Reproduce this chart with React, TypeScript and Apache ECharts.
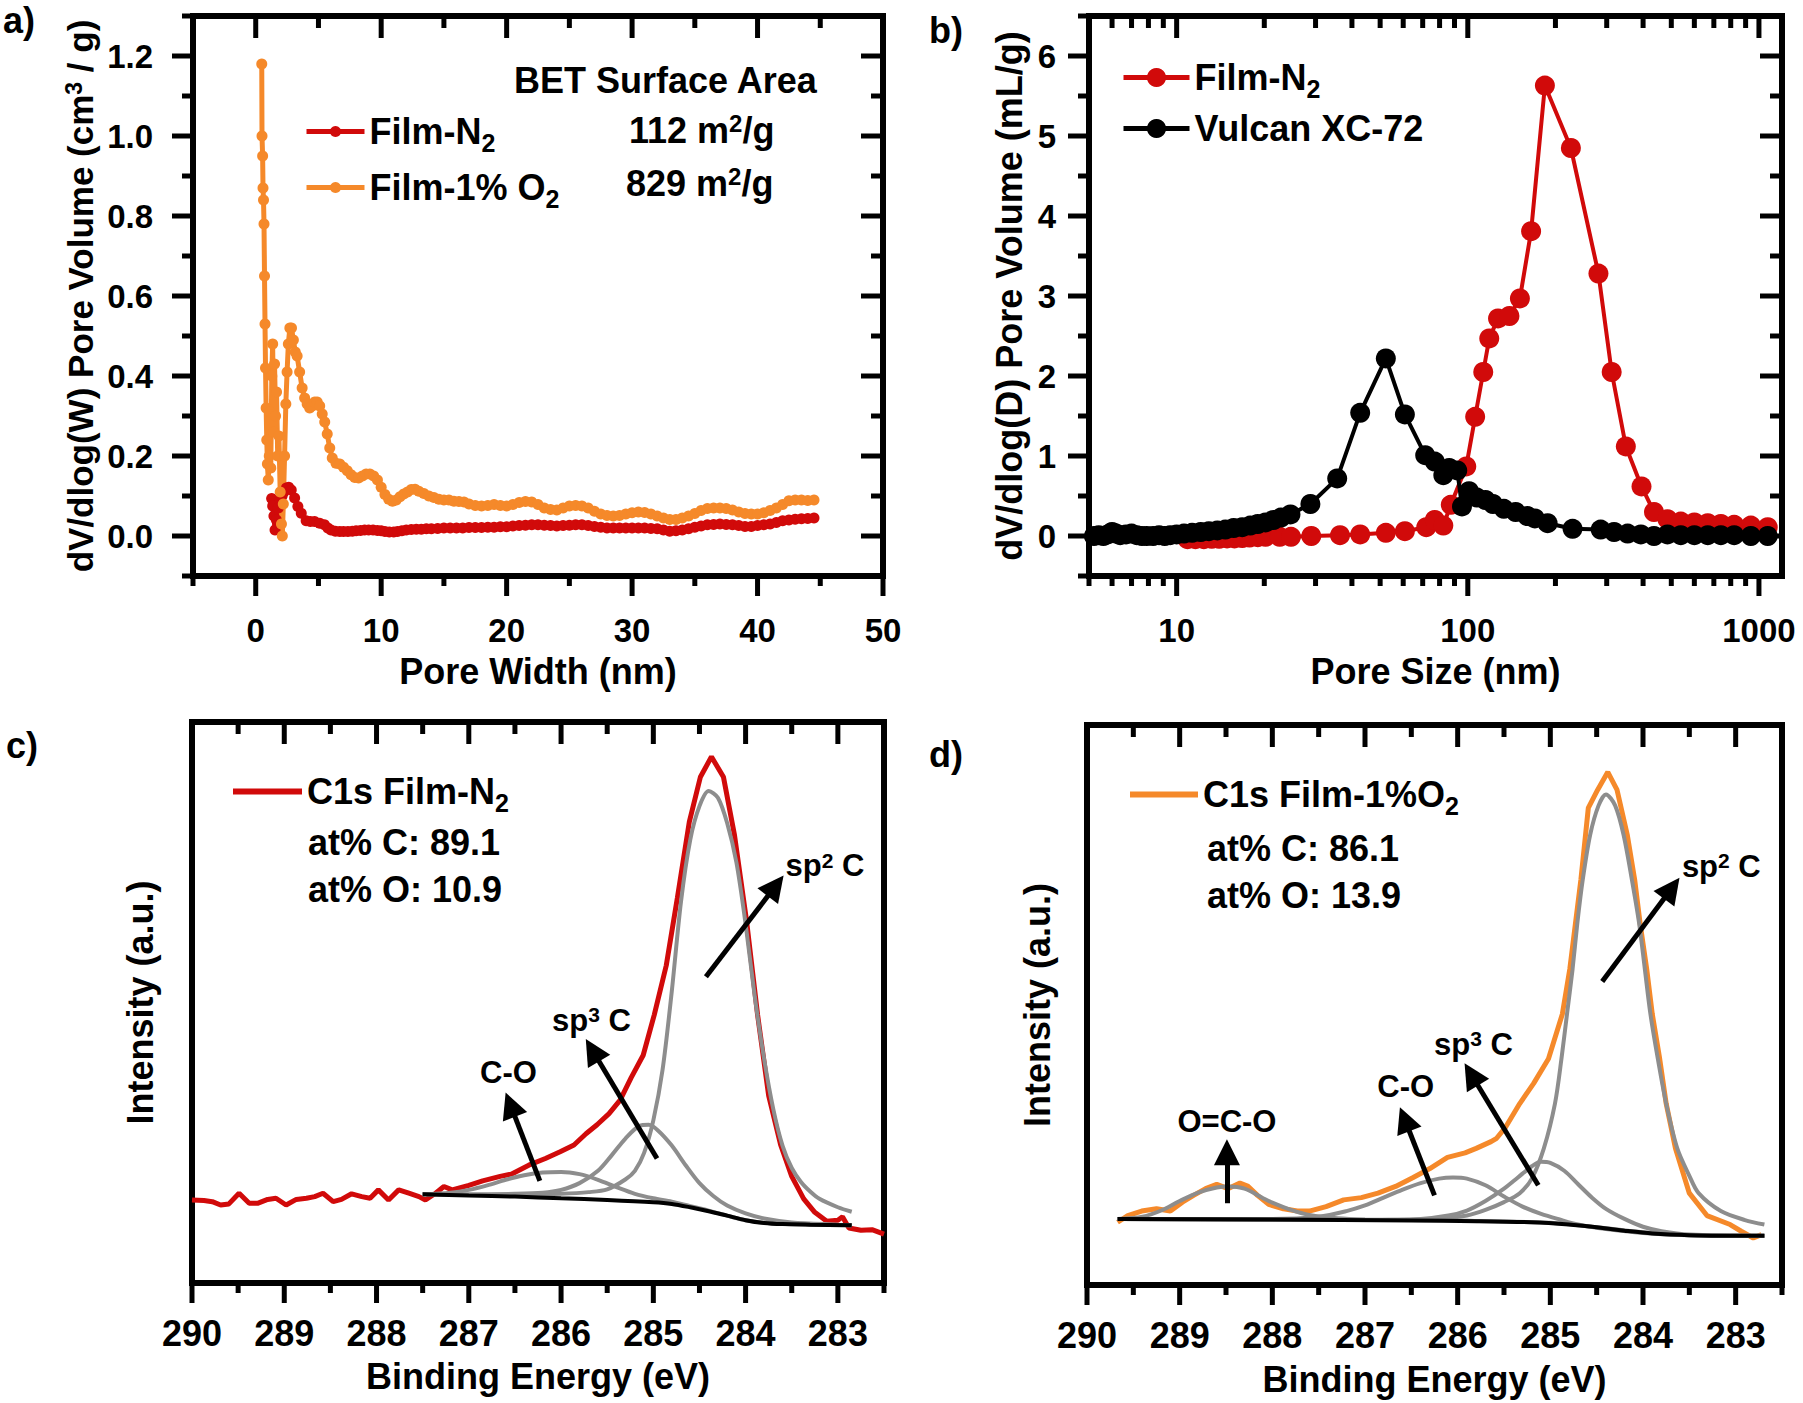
import React, { useEffect, useRef } from "react";
import * as echarts from "echarts";

const FONT = '"Liberation Sans", Arial, Helvetica, sans-serif';
const RED = "#d10a0a";
const ORANGE = "#f5892a";
const GRAY = "#8d8d8d";
const BLACK = "#000000";

// ---------------- Panel a: pore width distribution (BET) ----------------
const aFilmN2: number[][] = [
  [1.27, 0.094], [1.35, 0.075], [1.45, 0.05], [1.54, 0.015], [1.65, 0.04], [1.8, 0.07], [1.95, 0.09], [2.1, 0.1],
  [2.25, 0.11], [2.44, 0.12], [2.63, 0.122], [2.83, 0.115], [3.1, 0.095], [3.36, 0.074], [3.63, 0.057], [4.02, 0.038],
  [4.35, 0.036], [4.69, 0.036], [5.1, 0.032], [5.48, 0.028], [5.75, 0.02], [6.0, 0.015], [6.35, 0.012], [6.7, 0.011],
  [7.0, 0.011], [7.35, 0.011], [7.7, 0.012], [8.0, 0.013], [8.35, 0.014], [8.68, 0.015], [9.0, 0.015], [9.35, 0.015],
  [9.7, 0.014], [10.0, 0.013], [10.3, 0.011], [10.65, 0.01], [11.0, 0.01], [11.3, 0.011], [11.65, 0.013], [12.0, 0.015],
  [12.4, 0.016], [12.8, 0.017], [13.2, 0.017], [13.6, 0.018], [14.0, 0.018], [14.5, 0.019], [15.0, 0.02], [15.5, 0.02],
  [16.0, 0.02], [16.5, 0.02], [17.0, 0.021], [17.5, 0.021], [18.0, 0.021], [18.5, 0.022], [19.0, 0.022], [19.5, 0.023],
  [20.0, 0.023], [20.5, 0.025], [21.0, 0.026], [21.5, 0.027], [22.0, 0.028], [22.5, 0.028], [23.0, 0.027], [23.5, 0.026],
  [24.0, 0.025], [24.5, 0.026], [25.0, 0.027], [25.5, 0.028], [26.0, 0.028], [26.5, 0.026], [27.0, 0.024], [27.5, 0.022],
  [28.0, 0.02], [28.5, 0.02], [29.0, 0.02], [29.5, 0.02], [30.0, 0.02], [30.5, 0.02], [31.0, 0.02], [31.5, 0.019],
  [32.0, 0.018], [32.5, 0.015], [33.0, 0.012], [33.5, 0.013], [34.0, 0.015], [34.5, 0.018], [35.0, 0.022], [35.5, 0.025],
  [36.0, 0.028], [36.5, 0.029], [37.0, 0.03], [37.5, 0.029], [38.0, 0.028], [38.5, 0.026], [39.0, 0.024], [39.5, 0.024],
  [40.0, 0.026], [40.5, 0.028], [41.0, 0.03], [41.5, 0.034], [42.0, 0.038], [42.5, 0.04], [43.0, 0.042], [43.5, 0.043],
  [44.0, 0.044], [44.5, 0.045],
];
const aFilmO2: number[][] = [
  [0.48, 1.18], [0.5, 1.0], [0.55, 0.95], [0.58, 0.87], [0.62, 0.84], [0.66, 0.78], [0.7, 0.65], [0.74, 0.53],
  [0.78, 0.42], [0.83, 0.32], [0.88, 0.24], [0.93, 0.18], [1.0, 0.14], [1.08, 0.2], [1.15, 0.31], [1.2, 0.17],
  [1.28, 0.4], [1.35, 0.48], [1.42, 0.26], [1.5, 0.43], [1.58, 0.3], [1.66, 0.36], [1.75, 0.2], [1.85, 0.25],
  [1.95, 0.11], [2.05, 0.03], [2.12, 0.0], [2.2, 0.08], [2.3, 0.2], [2.4, 0.33], [2.5, 0.41], [2.6, 0.48],
  [2.72, 0.52], [2.85, 0.52], [3.0, 0.49], [3.15, 0.46], [3.3, 0.45], [3.5, 0.41], [3.7, 0.37], [3.9, 0.345],
  [4.1, 0.33], [4.3, 0.32], [4.5, 0.325], [4.7, 0.335], [4.9, 0.335], [5.1, 0.325], [5.3, 0.305], [5.5, 0.285],
  [5.7, 0.255], [5.9, 0.22], [6.1, 0.195], [6.4, 0.182], [6.7, 0.18], [7.0, 0.172], [7.3, 0.163], [7.6, 0.153],
  [7.9, 0.146], [8.2, 0.145], [8.5, 0.15], [8.8, 0.155], [9.1, 0.155], [9.4, 0.15], [9.7, 0.14], [10.0, 0.122],
  [10.3, 0.104], [10.6, 0.092], [10.9, 0.087], [11.2, 0.09], [11.5, 0.098], [11.8, 0.105], [12.1, 0.11], [12.4, 0.116],
  [12.7, 0.117], [13.0, 0.112], [13.4, 0.106], [13.8, 0.1], [14.2, 0.096], [14.6, 0.092], [15.0, 0.09], [15.4, 0.09],
  [15.8, 0.087], [16.2, 0.086], [16.6, 0.085], [17.0, 0.08], [17.5, 0.076], [18.0, 0.075], [18.5, 0.076], [19.0, 0.079],
  [19.5, 0.076], [20.0, 0.075], [20.5, 0.079], [21.0, 0.084], [21.5, 0.086], [22.0, 0.085], [22.5, 0.079], [23.0, 0.07],
  [23.5, 0.066], [24.0, 0.065], [24.5, 0.07], [25.0, 0.075], [25.5, 0.076], [26.0, 0.075], [26.5, 0.07], [27.0, 0.062],
  [27.5, 0.055], [28.0, 0.051], [28.5, 0.05], [29.0, 0.051], [29.5, 0.055], [30.0, 0.058], [30.5, 0.06], [31.0, 0.059],
  [31.5, 0.055], [32.0, 0.05], [32.5, 0.045], [33.0, 0.041], [33.5, 0.041], [34.0, 0.045], [34.5, 0.05], [35.0, 0.056],
  [35.5, 0.064], [36.0, 0.069], [36.5, 0.07], [37.0, 0.07], [37.5, 0.069], [38.0, 0.065], [38.5, 0.06], [39.0, 0.056],
  [39.5, 0.055], [40.0, 0.055], [40.5, 0.058], [41.0, 0.064], [41.5, 0.07], [42.0, 0.079], [42.5, 0.088], [43.0, 0.09],
  [43.5, 0.09], [44.0, 0.089], [44.5, 0.09],
];

// ---------------- Panel b: pore size distribution ----------------
const bFilmN2: number[][] = [
  [10.9, -0.04], [11.6, -0.04], [12.4, -0.04], [13.2, -0.035], [14.0, -0.035], [14.9, -0.03], [15.8, -0.03],
  [16.8, -0.025], [17.8, -0.02], [19.0, -0.015], [20.2, -0.01], [22.6, -0.01], [24.7, -0.01], [29.0, 0.0],
  [36.4, 0.01], [42.7, 0.02], [52.3, 0.04], [60.8, 0.06], [72, 0.11], [77, 0.2], [82.4, 0.13], [87.4, 0.39],
  [98.8, 0.87], [106, 1.49], [113, 2.05], [118.5, 2.47], [127, 2.72], [139, 2.75], [151, 2.97], [165, 3.81],
  [184, 5.63], [226, 4.85], [281, 3.28], [312, 2.05], [349, 1.12], [395, 0.62], [436, 0.3], [485, 0.21],
  [539, 0.18], [600, 0.17], [667, 0.16], [740, 0.15], [822, 0.14], [938, 0.13], [1072, 0.11],
];
const bVulcan: number[][] = [
  [5.2, 0.0], [5.4, 0.01], [5.6, 0.0], [5.8, 0.02], [6.0, 0.05], [6.2, 0.03], [6.4, 0.01], [6.7, 0.02],
  [7.0, 0.03], [7.3, 0.01], [7.6, 0.0], [7.9, 0.0], [8.3, 0.0], [8.7, 0.01], [9.1, 0.0], [9.5, 0.01],
  [10.0, 0.02], [10.6, 0.03], [11.3, 0.04], [12.1, 0.05], [12.9, 0.06], [13.8, 0.07], [14.7, 0.08], [15.7, 0.1],
  [16.8, 0.11], [17.9, 0.13], [19.0, 0.15], [20.2, 0.17], [21.5, 0.2], [22.8, 0.23], [24.6, 0.27], [28.8, 0.4],
  [35.6, 0.72], [42.7, 1.54], [52.3, 2.22], [60.8, 1.52], [71.4, 1.01], [77, 0.93], [82.4, 0.76], [86.3, 0.85],
  [92, 0.82], [95.5, 0.37], [101, 0.56], [107.5, 0.48], [115, 0.45], [122, 0.4], [133, 0.34], [146, 0.3],
  [160, 0.25], [170, 0.22], [188, 0.16], [229, 0.09], [286, 0.08], [318, 0.05], [354, 0.03], [393, 0.02],
  [436, 0.0], [485, 0.02], [539, 0.01], [600, 0.01], [667, 0.01], [740, 0.01], [822, 0.01], [938, 0.0], [1072, 0.0],
];

// ---------------- Panel c: XPS C1s Film-N2 ----------------
const cEnvelope: number[][] = [
  [290.0, 0.148], [289.87, 0.147], [289.78, 0.145], [289.69, 0.139], [289.6, 0.141], [289.49, 0.16], [289.38, 0.142],
  [289.29, 0.142], [289.18, 0.149], [289.09, 0.151], [288.98, 0.139], [288.87, 0.149], [288.76, 0.151], [288.67, 0.154],
  [288.58, 0.16], [288.47, 0.145], [288.38, 0.149], [288.27, 0.159], [288.16, 0.154], [288.07, 0.151], [287.98, 0.166],
  [287.87, 0.148], [287.76, 0.166], [287.65, 0.16], [287.54, 0.154], [287.47, 0.148], [287.36, 0.16], [287.27, 0.172],
  [287.18, 0.166], [287.0, 0.174], [286.85, 0.182], [286.66, 0.19], [286.54, 0.194], [286.35, 0.21], [286.17, 0.222],
  [286.01, 0.234], [285.86, 0.246], [285.73, 0.266], [285.61, 0.282], [285.48, 0.302], [285.36, 0.326], [285.24, 0.366],
  [285.11, 0.406], [284.99, 0.478], [284.86, 0.566], [284.74, 0.686], [284.61, 0.822], [284.49, 0.902], [284.37, 0.938],
  [284.24, 0.902], [284.12, 0.798], [283.99, 0.646], [283.87, 0.478], [283.75, 0.334], [283.62, 0.246], [283.5, 0.19],
  [283.37, 0.15], [283.25, 0.126], [283.12, 0.11], [283.0, 0.112], [282.95, 0.118], [282.88, 0.098], [282.75, 0.094],
  [282.63, 0.095], [282.5, 0.087],
];
const cSp2: number[][] = [
  [287.5, 0.158], [287.0, 0.157], [286.5, 0.157], [286.0, 0.159], [285.7, 0.162], [285.5, 0.167], [285.3, 0.185],
  [285.2, 0.2], [285.1, 0.232], [285.0, 0.29], [284.9, 0.38], [284.8, 0.52], [284.7, 0.68], [284.6, 0.79],
  [284.5, 0.85], [284.4, 0.877], [284.3, 0.865], [284.2, 0.82], [284.1, 0.75], [284.0, 0.64], [283.9, 0.51],
  [283.8, 0.4], [283.7, 0.31], [283.6, 0.245], [283.5, 0.205], [283.4, 0.18], [283.3, 0.163], [283.2, 0.15],
  [283.0, 0.135], [282.85, 0.127],
];
const cSp3: number[][] = [
  [287.5, 0.158], [287.0, 0.158], [286.5, 0.159], [286.2, 0.161], [286.0, 0.166], [285.8, 0.178], [285.6, 0.2],
  [285.45, 0.228], [285.3, 0.258], [285.15, 0.28], [285.05, 0.282], [284.95, 0.272], [284.8, 0.245], [284.65, 0.21],
  [284.5, 0.178], [284.35, 0.155], [284.2, 0.138], [284.0, 0.124], [283.8, 0.115], [283.5, 0.108], [283.0, 0.104],
  [282.85, 0.103],
];
const cCO: number[][] = [
  [287.5, 0.158], [287.2, 0.161], [287.0, 0.166], [286.8, 0.174], [286.6, 0.184], [286.4, 0.192], [286.2, 0.197],
  [286.0, 0.198], [285.8, 0.194], [285.6, 0.184], [285.4, 0.171], [285.2, 0.159], [285.0, 0.151], [284.8, 0.145],
  [284.6, 0.137], [284.4, 0.129], [284.2, 0.12], [284.0, 0.112], [283.7, 0.106], [283.3, 0.104], [282.85, 0.103],
];
const cBackground: number[][] = [
  [287.5, 0.158], [287.0, 0.156], [286.5, 0.154], [286.0, 0.151], [285.5, 0.148], [285.0, 0.144], [284.8, 0.141],
  [284.6, 0.135], [284.4, 0.128], [284.2, 0.12], [284.0, 0.112], [283.8, 0.107], [283.6, 0.105], [283.3, 0.104],
  [282.85, 0.103],
];

// ---------------- Panel d: XPS C1s Film-1%O2 ----------------
const dEnvelope: number[][] = [
  [289.67, 0.112], [289.56, 0.124], [289.41, 0.132], [289.25, 0.136], [289.1, 0.132], [288.97, 0.148], [288.85, 0.16],
  [288.72, 0.172], [288.6, 0.18], [288.48, 0.172], [288.35, 0.182], [288.26, 0.176], [288.16, 0.16], [288.04, 0.144],
  [287.88, 0.136], [287.73, 0.132], [287.6, 0.132], [287.42, 0.14], [287.23, 0.152], [287.04, 0.156], [286.86, 0.164],
  [286.67, 0.176], [286.48, 0.192], [286.3, 0.208], [286.11, 0.228], [285.92, 0.236], [285.8, 0.244], [285.64, 0.256],
  [285.58, 0.262], [285.49, 0.28], [285.33, 0.324], [285.18, 0.36], [285.02, 0.404], [284.87, 0.484], [284.79, 0.564],
  [284.73, 0.644], [284.67, 0.724], [284.62, 0.804], [284.59, 0.852], [284.49, 0.884], [284.38, 0.916], [284.28, 0.884],
  [284.17, 0.804], [284.09, 0.724], [284.03, 0.644], [283.96, 0.564], [283.9, 0.484], [283.82, 0.404], [283.75, 0.324],
  [283.65, 0.244], [283.5, 0.164], [283.31, 0.124], [283.06, 0.108], [282.94, 0.096], [282.81, 0.084], [282.72, 0.09],
];
const dSp2: number[][] = [
  [289.67, 0.118], [287.0, 0.116], [286.2, 0.118], [285.9, 0.124], [285.7, 0.134], [285.5, 0.148], [285.33, 0.164],
  [285.2, 0.19], [285.07, 0.244], [284.95, 0.324], [284.88, 0.404], [284.82, 0.484], [284.76, 0.564], [284.71, 0.644],
  [284.65, 0.724], [284.57, 0.804], [284.48, 0.856], [284.4, 0.876], [284.3, 0.856], [284.21, 0.804], [284.12, 0.724],
  [284.04, 0.644], [283.98, 0.564], [283.92, 0.484], [283.84, 0.404], [283.75, 0.324], [283.63, 0.244], [283.5, 0.195],
  [283.4, 0.164], [283.16, 0.132], [282.9, 0.116], [282.69, 0.108],
];
const dSp3: number[][] = [
  [289.67, 0.118], [287.0, 0.116], [286.4, 0.118], [286.1, 0.124], [285.9, 0.133], [285.7, 0.15], [285.5, 0.172],
  [285.35, 0.192], [285.2, 0.212], [285.1, 0.22], [285.0, 0.218], [284.85, 0.204], [284.7, 0.18], [284.55, 0.156],
  [284.4, 0.136], [284.2, 0.118], [284.0, 0.104], [283.8, 0.096], [283.5, 0.09], [282.69, 0.088],
];
const dCO: number[][] = [
  [289.67, 0.118], [288.0, 0.118], [287.5, 0.122], [287.2, 0.132], [287.0, 0.142], [286.8, 0.156], [286.6, 0.17],
  [286.4, 0.182], [286.2, 0.19], [286.05, 0.192], [285.9, 0.19], [285.7, 0.178], [285.5, 0.158], [285.3, 0.14],
  [285.1, 0.127], [284.9, 0.117], [284.7, 0.108], [284.4, 0.1], [284.0, 0.093], [283.5, 0.089], [282.69, 0.088],
];
const dOCO: number[][] = [
  [289.67, 0.118], [289.4, 0.122], [289.2, 0.133], [289.0, 0.15], [288.8, 0.165], [288.6, 0.174], [288.48, 0.176],
  [288.3, 0.172], [288.1, 0.155], [288.0, 0.147], [287.8, 0.134], [287.6, 0.125], [287.3, 0.119], [287.0, 0.117],
  [286.0, 0.115], [285.0, 0.111], [284.5, 0.103], [284.0, 0.094], [283.5, 0.089], [282.69, 0.088],
];
const dBackground: number[][] = [
  [289.67, 0.118], [288.0, 0.117], [286.5, 0.115], [285.8, 0.114], [285.2, 0.112], [284.8, 0.108], [284.5, 0.103],
  [284.2, 0.097], [283.9, 0.092], [283.5, 0.089], [283.0, 0.088], [282.69, 0.088],
];

// ---------------- annotation arrows / labels (data coords) ----------------
const cArrows: number[][][] = [
  [[284.43, 0.546], [283.674, 0.708]],
  [[284.96, 0.222], [285.66, 0.415]],
  [[286.23, 0.182], [286.55, 0.318]],
];
const dArrows: number[][][] = [
  [[284.44, 0.542], [283.69, 0.7085]],
  [[285.13, 0.178], [285.853, 0.376]],
  [[286.25, 0.16], [286.572, 0.296]],
  [[288.49, 0.146], [288.49, 0.237]],
];
const cPeakLabels: [number, number, string][] = [
  [283.14, 0.744, "{m|sp}{sup|2}{m| C}"],
  [285.67, 0.468, "{m|sp}{sup|3}{m| C}"],
  [286.57, 0.375, "{m|C-O}"],
];
const dPeakLabels: [number, number, string][] = [
  [283.155, 0.748, "{m|sp}{sup|2}{m| C}"],
  [285.83, 0.43, "{m|sp}{sup|3}{m| C}"],
  [286.56, 0.354, "{m|C-O}"],
  [288.49, 0.292, "{m|O=C-O}"],
];

// ---------------- ticks ----------------
const aXMajor = [0, 10, 20, 30, 40, 50];
const aXMinor = [-5, 5, 15, 25, 35, 45];
const aYMajor = [0, 0.2, 0.4, 0.6, 0.8, 1.0, 1.2];
const aYMinor = [-0.1, 0.1, 0.3, 0.5, 0.7, 0.9, 1.1, 1.3];
const bXMajor = [10, 100, 1000];
const bXMinor = [5, 6, 7, 8, 9, 20, 30, 40, 50, 60, 70, 80, 90, 200, 300, 400, 500, 600, 700, 800, 900];
const bYMajor = [0, 1, 2, 3, 4, 5, 6];
const bYMinor = [-0.5, 0.5, 1.5, 2.5, 3.5, 4.5, 5.5, 6.5];
const xpsXMajor = [283, 284, 285, 286, 287, 288, 289, 290];
const xpsXMinor = [282.5, 283.5, 284.5, 285.5, 286.5, 287.5, 288.5, 289.5];

const legendText: Record<string, string> = {
  "a-N2": "{m|Film-N}{sub|2}",
  "a-O2": "{m|Film-1% O}{sub|2}",
  "b-N2": "{m|Film-N}{sub|2}",
  "b-Vulcan": "{m|Vulcan XC-72}",
  "c-env": "{m|C1s Film-N}{sub|2}",
  "d-env": "{m|C1s Film-1%O}{sub|2}",
};

const GRIDS = [
  { left: 193, top: 16, width: 690, height: 560 },
  { left: 1089, top: 16, width: 693, height: 560 },
  { left: 192, top: 722, width: 692, height: 561 },
  { left: 1087, top: 725, width: 695, height: 560 },
];

// reference values inside each panel's ranges (used when converting a single coordinate)
const PANEL_TICKS = [
  { xRef: 0, yRef: 0, xMajor: aXMajor, xMinor: aXMinor, yMajor: aYMajor, yMinor: aYMinor },
  { xRef: 10, yRef: 0, xMajor: bXMajor, xMinor: bXMinor, yMajor: bYMajor, yMinor: bYMinor },
  { xRef: 285, yRef: 0.5, xMajor: xpsXMajor, xMinor: xpsXMinor, yMajor: [] as number[], yMinor: [] as number[] },
  { xRef: 285, yRef: 0.5, xMajor: xpsXMajor, xMinor: xpsXMinor, yMajor: [] as number[], yMinor: [] as number[] },
];

function rich(size: number) {
  const lh = Math.round(size * 1.22);
  const base = { fontWeight: "bold", fontFamily: FONT, color: BLACK };
  return {
    m: { ...base, fontSize: size, lineHeight: lh },
    sub: { ...base, fontSize: Math.round(size * 0.7), lineHeight: lh, padding: [Math.round(size * 0.6), 0, 0, 0] },
    sup: { ...base, fontSize: Math.round(size * 0.67), lineHeight: lh, padding: [0, 0, Math.round(size * 0.36), 0] },
  };
}

function txt(size: number) {
  return { fontSize: size, fontWeight: "bold", fontFamily: FONT, color: BLACK };
}

function axis(gi: number, type: string, min: number, max: number, major: number[], inverse: boolean, label: any, nameCfg: any) {
  const a: any = {
    gridIndex: gi, type, min, max, inverse, splitLine: { show: false }, silent: true,
    axisPointer: { show: false }, nameMoveOverlap: false,
    axisLine: { show: false, onZero: false }, axisTick: { show: false },
    axisLabel: label ? { show: true, customValues: major.slice(), ...label } : { show: false },
    ...nameCfg,
  };
  if (type === "log") a.logBase = 10;
  return a;
}

function lineSeries(name: string, gi: number, data: number[][], color: string, width: number, symbolSize: number, extra: any = {}) {
  return {
    type: "line", name, xAxisIndex: gi, yAxisIndex: gi, data, color,
    lineStyle: { color, width }, itemStyle: { color },
    symbol: symbolSize > 0 ? "circle" : "none", symbolSize, showSymbol: symbolSize > 0,
    silent: true, emphasis: { disabled: true }, animation: false, ...extra,
  };
}

function arrowMarks(arrows: number[][][], labels: [number, number, string][]) {
  return {
    markLine: {
      silent: true, symbol: ["none", "triangle"], symbolSize: 26, animation: false,
      lineStyle: { color: BLACK, width: 5, type: "solid" }, label: { show: false }, emphasis: { disabled: true },
      data: arrows.map((a) => [{ coord: a[0] }, { coord: a[1] }]),
    },
    markPoint: {
      silent: true, symbol: "circle", symbolSize: 1, itemStyle: { color: "rgba(0,0,0,0)" }, animation: false,
      label: { show: true, position: "inside", rich: rich(31), ...txt(31) },
      data: labels.map((l) => ({ coord: [l[0], l[1]], value: 0, label: { formatter: l[2] } })),
    },
  };
}

function gtext(x: number, y: number, text: string, size = 36) {
  return {
    type: "text", x, y, silent: true,
    style: { text, rich: rich(size), fontSize: size, fontWeight: "bold", fontFamily: FONT, fill: BLACK, verticalAlign: "middle", align: "left" },
  };
}
function ptext(x: number, y: number, text: string, size = 36) {
  return {
    type: "text", x, y, silent: true,
    style: { text, fontSize: size, fontWeight: "bold", fontFamily: FONT, fill: BLACK, verticalAlign: "top", align: "left" },
  };
}

const textGraphics = [
  ptext(3, 2, "a)"),
  ptext(929, 12, "b)"),
  ptext(6, 727, "c)"),
  ptext(929, 736, "d)"),
  gtext(514, 80, "{m|BET Surface Area}"),
  gtext(629, 130, "{m|112 m}{sup|2}{m|/g}"),
  gtext(626, 183, "{m|829 m}{sup|2}{m|/g}"),
  gtext(308, 842, "{m|at% C: 89.1}"),
  gtext(308, 889, "{m|at% O: 10.9}"),
  gtext(1207, 848, "{m|at% C: 86.1}"),
  gtext(1207, 895, "{m|at% O: 13.9}"),
];

function buildOption() {
  const tickLabA = { ...txt(33), margin: 38 };
  const xpsLab = { ...txt(36), margin: 32, formatter: (v: number) => String(v) };
  const xAxis = [
    axis(0, "value", -5, 50, aXMajor, false, { ...tickLabA, formatter: (v: number) => String(v) },
      { name: "Pore Width (nm)", nameLocation: "middle", nameGap: 77, nameTextStyle: txt(36) }),
    axis(1, "log", 5, 1200, bXMajor, false, { ...tickLabA, formatter: (v: number) => String(Math.round(v)) },
      { name: "Pore Size (nm)", nameLocation: "middle", nameGap: 77, nameTextStyle: txt(36) }),
    axis(2, "value", 282.5, 290, xpsXMajor, true, xpsLab,
      { name: "Binding Energy (eV)", nameLocation: "middle", nameGap: 75, nameTextStyle: txt(36) }),
    axis(3, "value", 282.5, 290, xpsXMajor, true, xpsLab,
      { name: "Binding Energy (eV)", nameLocation: "middle", nameGap: 76, nameTextStyle: txt(36) }),
  ];
  const yAxis = [
    axis(0, "value", -0.1, 1.3, aYMajor, false, { ...txt(33), margin: 40, formatter: (v: number) => v.toFixed(1) },
      {
        name: "{m|dV/dlog(W) Pore Volume (cm}{sup|3}{m| / g)}", nameLocation: "middle", nameGap: 91,
        nameTextStyle: { ...txt(35), rich: rich(35) },
      }),
    axis(1, "value", -0.5, 6.5, bYMajor, false, { ...txt(33), margin: 33, formatter: (v: number) => String(v) },
      { name: "dV/dlog(D) Pore Volume (mL/g)", nameLocation: "middle", nameGap: 62, nameTextStyle: txt(36) }),
    axis(2, "value", 0, 1, [], false, null,
      { name: "Intensity (a.u.)", nameLocation: "middle", nameGap: 34, nameTextStyle: txt(36) }),
    axis(3, "value", 0, 1, [], false, null,
      { name: "Intensity (a.u.)", nameLocation: "middle", nameGap: 32, nameTextStyle: txt(36) }),
  ];

  const series: any[] = [
    lineSeries("a-N2", 0, aFilmN2, RED, 5, 11),
    lineSeries("a-O2", 0, aFilmO2, ORANGE, 5, 11),
    lineSeries("b-N2", 1, bFilmN2, RED, 4, 20),
    lineSeries("b-Vulcan", 1, bVulcan, BLACK, 4, 20),
    lineSeries("c-env", 2, cEnvelope, RED, 5, 0, arrowMarks(cArrows, cPeakLabels)),
    lineSeries("c-sp2", 2, cSp2, GRAY, 4, 0, { smooth: 0.3 }),
    lineSeries("c-sp3", 2, cSp3, GRAY, 4, 0, { smooth: 0.3 }),
    lineSeries("c-CO", 2, cCO, GRAY, 4, 0, { smooth: 0.3 }),
    lineSeries("c-bg", 2, cBackground, BLACK, 4, 0, { smooth: 0.3 }),
    lineSeries("d-env", 3, dEnvelope, ORANGE, 5, 0, arrowMarks(dArrows, dPeakLabels)),
    lineSeries("d-sp2", 3, dSp2, GRAY, 4, 0, { smooth: 0.3 }),
    lineSeries("d-sp3", 3, dSp3, GRAY, 4, 0, { smooth: 0.3 }),
    lineSeries("d-CO", 3, dCO, GRAY, 4, 0, { smooth: 0.3 }),
    lineSeries("d-OCO", 3, dOCO, GRAY, 4, 0, { smooth: 0.3 }),
    lineSeries("d-bg", 3, dBackground, BLACK, 4, 0, { smooth: 0.3 }),
  ];

  const legendBase = {
    orient: "vertical", padding: 0, selectedMode: false,
    formatter: (n: string) => legendText[n] || n,
    textStyle: { ...txt(36), rich: rich(36) },
  };
  const legend = [
    { ...legendBase, left: 304, top: 108, itemWidth: 58, itemHeight: 14, itemGap: 9, lineStyle: { width: 5 }, data: ["a-N2", "a-O2"] },
    { ...legendBase, left: 1121, top: 54, itemWidth: 66, itemHeight: 24, itemGap: 9.5, lineStyle: { width: 5 }, data: ["b-N2", "b-Vulcan"] },
    { ...legendBase, left: 233, top: 768, itemWidth: 69, itemHeight: 6, data: [{ name: "c-env", icon: "rect" }] },
    { ...legendBase, left: 1130, top: 771, itemWidth: 68, itemHeight: 6, data: [{ name: "d-env", icon: "rect" }] },
  ];

  const gridBase = { show: true, borderColor: BLACK, borderWidth: 6, backgroundColor: "transparent", containLabel: false, outerBoundsMode: "none" };
  return {
    animation: false,
    backgroundColor: "#ffffff",
    textStyle: { fontFamily: FONT },
    grid: GRIDS.map((g) => ({ ...gridBase, ...g })),
    xAxis, yAxis, series, legend, graphic: textGraphics,
    tooltip: { show: false },
  };
}

// Tick marks: positions come from each grid's own cartesian scales via convertToPixel.
function tickGraphics(chart: any) {
  const out: any[] = [];
  const seg = (x1: number, y1: number, x2: number, y2: number) => ({
    type: "line", silent: true, z: 10,
    shape: { x1, y1, x2, y2 }, style: { stroke: BLACK, lineWidth: 5 },
  });
  const toPx = (gi: number, x: number, y: number): number[] | null => {
    const r = chart.convertToPixel({ gridIndex: gi }, [x, y]);
    return Array.isArray(r) && isFinite(r[0]) && isFinite(r[1]) ? r : null;
  };
  PANEL_TICKS.forEach((p, gi) => {
    const g = GRIDS[gi];
    const L = g.left, T = g.top, R = g.left + g.width, B = g.top + g.height;
    const xs = (vals: number[], outLen: number, inLen: number) => vals.forEach((v) => {
      const pt = toPx(gi, v, p.yRef);
      if (!pt) return;
      out.push(seg(pt[0], B, pt[0], B + outLen));
      out.push(seg(pt[0], T, pt[0], T + inLen));
    });
    const ys = (vals: number[], outLen: number, inLen: number) => vals.forEach((v) => {
      const pt = toPx(gi, p.xRef, v);
      if (!pt) return;
      out.push(seg(L - outLen, pt[1], L, pt[1]));
      out.push(seg(R, pt[1], R - inLen, pt[1]));
    });
    xs(p.xMajor, 20, 22);
    xs(p.xMinor, 10, 12);
    ys(p.yMajor, 21, 22);
    ys(p.yMinor, 11, 12);
  });
  return out;
}

export default function App() {
  const ref = useRef<HTMLDivElement>(null);
  useEffect(() => {
    document.body.style.margin = "0";
    if (!ref.current) return;
    const chart = echarts.init(ref.current, undefined, { renderer: "svg", width: 1803, height: 1403 });
    chart.setOption(buildOption() as any);
    chart.setOption({ graphic: [...textGraphics, ...tickGraphics(chart)] } as any);
    return () => chart.dispose();
  }, []);
  return (
    <div
      ref={ref}
      style={{ position: "absolute", left: 0, top: 0, width: 1803, height: 1403, background: "#fff" }}
    />
  );
}
